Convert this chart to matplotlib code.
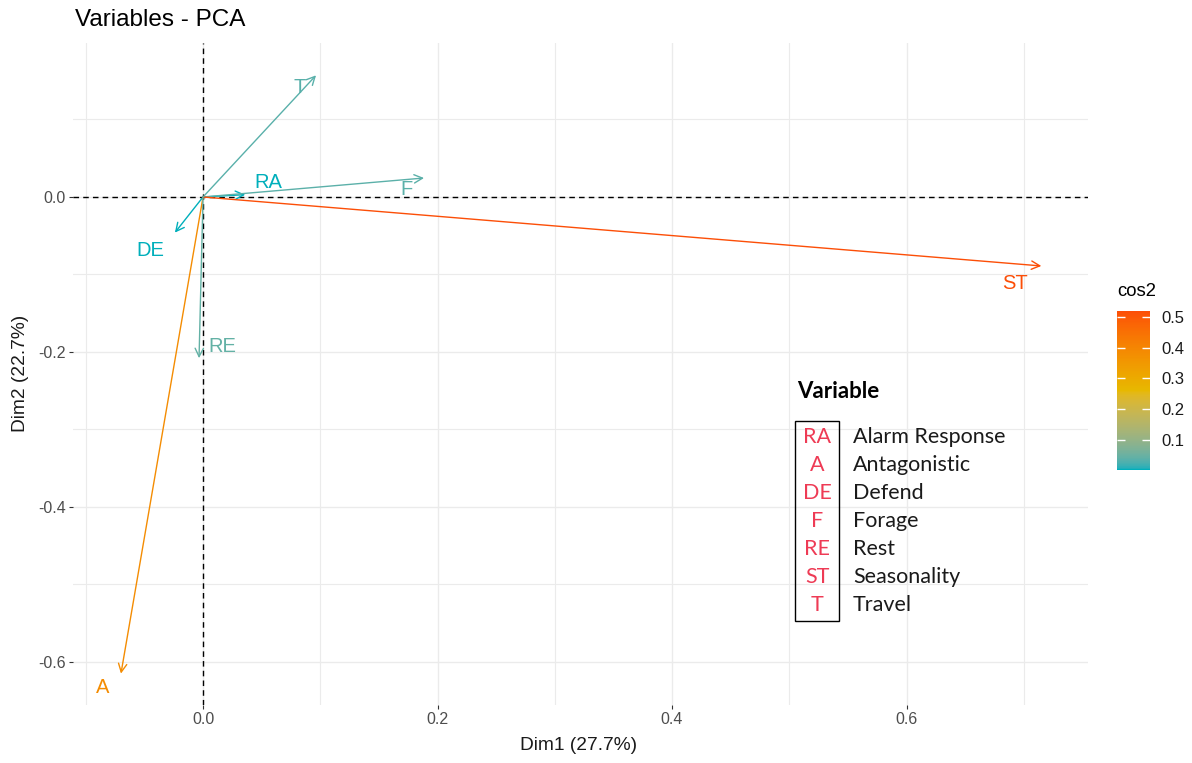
import numpy as np
import matplotlib.pyplot as plt
from matplotlib.colors import ListedColormap, Normalize, to_rgb
from matplotlib.patches import Rectangle

# Variable coordinates on the first two PCA dimensions
codes = ['RA', 'A', 'DE', 'F', 'RE', 'ST', 'T']
names = ['Alarm Response', 'Antagonistic', 'Defend', 'Forage', 'Rest',
         'Seasonality', 'Travel']
dim1 = np.array([0.036, -0.070, -0.024, 0.1885, -0.0034, 0.715, 0.0964])
dim2 = np.array([0.003, -0.615, -0.046, 0.0245, -0.208, -0.089, 0.157])
cos2 = dim1 ** 2 + dim2 ** 2
gradient_cols = ['#00AFBB', '#E7B800', '#FC4E07']

# label offsets from arrow tips (pixels: right, down)
label_offsets = {'RA': (23, -12), 'A': (-18, 14), 'DE': (-25, 18), 'F': (-18, 11),
                 'RE': (23, -12), 'ST': (-26, 18), 'T': (-16, 12)}

plt.rcParams['font.family'] = ['Liberation Sans', 'DejaVu Sans']
plt.rcParams['axes.unicode_minus'] = False


# --- gradient interpolated in Lab space, like ggplot's scales ---
def _srgb_to_lab(rgb):
    rgb = np.asarray(rgb, float)
    lin = np.where(rgb <= 0.04045, rgb / 12.92, ((rgb + 0.055) / 1.055) ** 2.4)
    M = np.array([[0.4124, 0.3576, 0.1805],
                  [0.2126, 0.7152, 0.0722],
                  [0.0193, 0.1192, 0.9505]])
    xyz = lin @ M.T / np.array([0.95047, 1.0, 1.08883])
    f = np.where(xyz > 0.008856, np.cbrt(xyz), 7.787 * xyz + 16 / 116)
    return np.stack([116 * f[..., 1] - 16,
                     500 * (f[..., 0] - f[..., 1]),
                     200 * (f[..., 1] - f[..., 2])], axis=-1)


def _lab_to_srgb(lab):
    L, a, b = lab[..., 0], lab[..., 1], lab[..., 2]
    fy_ = (L + 16) / 116
    f = np.stack([fy_ + a / 500, fy_, fy_ - b / 200], axis=-1)
    xyz = np.where(f ** 3 > 0.008856, f ** 3, (f - 16 / 116) / 7.787)
    xyz = xyz * np.array([0.95047, 1.0, 1.08883])
    Minv = np.array([[3.2406, -1.5372, -0.4986],
                     [-0.9689, 1.8758, 0.0415],
                     [0.0557, -0.2040, 1.0570]])
    lin = xyz @ Minv.T
    rgb = np.where(lin <= 0.0031308, 12.92 * lin, 1.055 * np.clip(lin, 0, None) ** (1 / 2.4) - 0.055)
    return np.clip(rgb, 0, 1)


labs = _srgb_to_lab([to_rgb(c) for c in gradient_cols])
t = np.linspace(0, 1, 256)
stops = np.linspace(0, 1, len(labs))
lab_ramp = np.stack([np.interp(t, stops, labs[:, k]) for k in range(3)], axis=-1)
cmap = ListedColormap(_lab_to_srgb(lab_ramp))
norm = Normalize(vmin=cos2.min(), vmax=cos2.max())

W, H = 1192, 763
fig = plt.figure(figsize=(W / 100, H / 100), dpi=100)


def fx(x):
    return x / W


def fy(y):
    return 1 - y / H


ax = fig.add_axes([fx(73), fy(705), fx(1088) - fx(73), fy(43) - fy(705)])
ax.set_xlim(-0.1109, 0.7548)
ax.set_ylim(-0.6555, 0.1987)

for s in ax.spines.values():
    s.set_visible(False)

ax.set_xticks([0.0, 0.2, 0.4, 0.6])
ax.set_yticks([-0.6, -0.4, -0.2, 0.0])
ax.set_xticks([-0.1, 0.1, 0.3, 0.5, 0.7], minor=True)
ax.set_yticks([-0.5, -0.3, -0.1, 0.1], minor=True)
ax.grid(True, which='major', color='#ebebeb', lw=1.0)
ax.grid(True, which='minor', color='#ebebeb', lw=0.8)
ax.tick_params(which='major', length=3, color='#333333', labelsize=11.5,
               labelcolor='#4d4d4d', pad=2)
ax.tick_params(which='minor', length=0)
ax.set_axisbelow(True)

ax.axhline(0, color='black', ls=(0, (4, 3)), lw=1)
ax.axvline(0, color='black', ls=(0, (4, 3)), lw=1)

for code, x, y, c in zip(codes, dim1, dim2, cos2):
    col = cmap(norm(c))
    ax.annotate('', xy=(x, y), xytext=(0, 0),
                arrowprops=dict(arrowstyle='->,head_length=0.6,head_width=0.3',
                                color=col, lw=1, shrinkA=0, shrinkB=0))
    dx, dy = label_offsets[code]
    ax.annotate(code, xy=(x, y), xytext=(dx * 0.72, -dy * 0.72),
                textcoords='offset points', ha='center', va='center',
                color=col, fontsize=14.5)

fig.text(fx(579), fy(746), 'Dim1 (27.7%)', fontsize=13.8, color='#1a1a1a',
         ha='center', va='center')
fig.text(fx(21), fy(373), 'Dim2 (22.7%)', fontsize=13.8, color='#1a1a1a',
         ha='center', va='center', rotation=90)
fig.text(fx(75), fy(20), 'Variables - PCA', fontsize=17.5, color='black',
         ha='left', va='center')

# colour bar for cos2
cax = fig.add_axes([fx(1117), fy(470), fx(1150) - fx(1117), fy(311) - fy(470)])
cb = fig.colorbar(plt.cm.ScalarMappable(norm=norm, cmap=cmap), cax=cax,
                  ticks=[0.1, 0.2, 0.3, 0.4, 0.5])
cb.outline.set_visible(False)
cax.tick_params(axis='y', direction='in', length=6, width=1, color='white',
                left=True, right=True, labelleft=False, labelright=True,
                labelsize=12, labelcolor='#1a1a1a', pad=8)
cax.set_yticklabels(['0.1', '0.2', '0.3', '0.4', '0.5'])
fig.text(fx(1117), fy(292), 'cos2', fontsize=13.3, ha='left', va='center')

# legend for the variable codes
fig.text(fx(797), fy(391), 'Variable', family=['Lato', 'DejaVu Sans'],
         fontweight='bold', fontsize=16, ha='left', va='center')
fig.patches.append(Rectangle((fx(795), fy(621)), fx(839) - fx(795),
                             fy(421) - fy(621), transform=fig.transFigure,
                             fill=False, edgecolor='black', lw=1))
for i, (code, name) in enumerate(zip(codes, names)):
    yy = 437 + 28 * i
    fig.text(fx(817), fy(yy), code, family=['Lato', 'DejaVu Sans'],
             fontsize=15.5, color='#EE3B55', ha='center', va='center')
    fig.text(fx(853), fy(yy), name, family=['Lato', 'DejaVu Sans'],
             fontsize=15.5, color='#1a1a1a', ha='left', va='center')

fig.savefig('out.png', dpi=100)
